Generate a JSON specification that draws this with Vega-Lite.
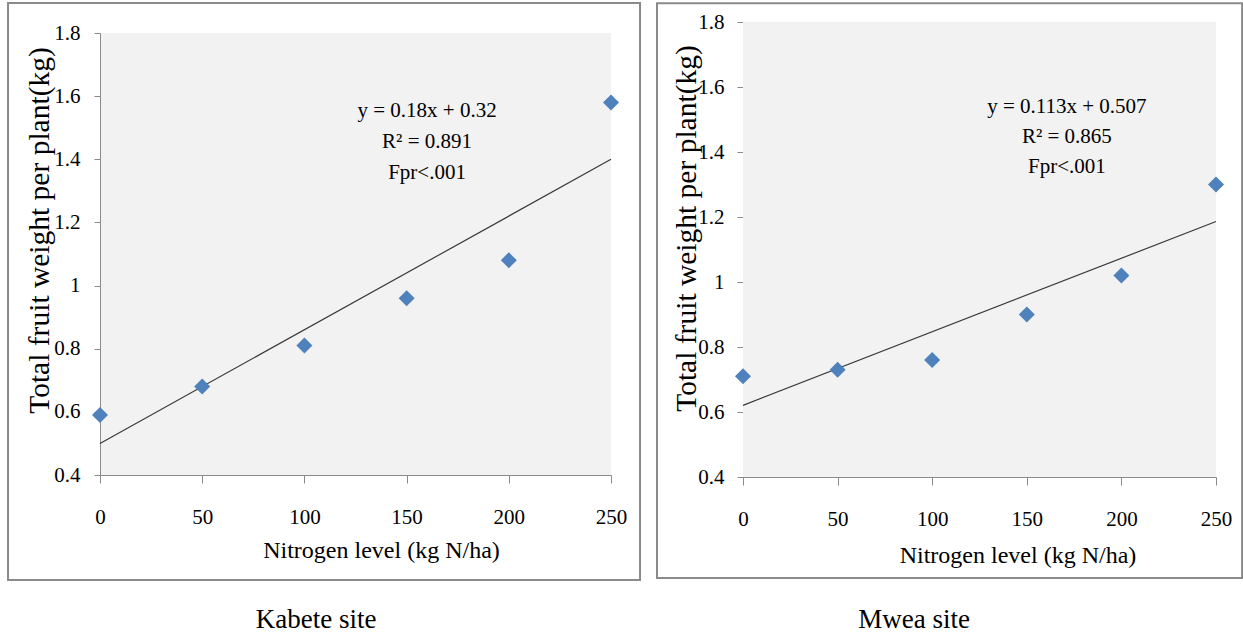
{
  "$schema": "https://vega.github.io/schema/vega-lite/v6.json",
  "padding": {"left": 7, "top": 2, "right": 0, "bottom": 0},
  "spacing": 14,
  "datasets": {
    "kabete": [
      {"nitrogen": 0, "weight": 0.59},
      {"nitrogen": 50, "weight": 0.68},
      {"nitrogen": 100, "weight": 0.81},
      {"nitrogen": 150, "weight": 0.96},
      {"nitrogen": 200, "weight": 1.08},
      {"nitrogen": 250, "weight": 1.58}
    ],
    "mwea": [
      {"nitrogen": 0, "weight": 0.71},
      {"nitrogen": 50, "weight": 0.73},
      {"nitrogen": 100, "weight": 0.76},
      {"nitrogen": 150, "weight": 0.90},
      {"nitrogen": 200, "weight": 1.02},
      {"nitrogen": 250, "weight": 1.30}
    ]
  },
  "hconcat": [
    {
      "width": 511,
      "height": 442,
      "layer": [
        {
          "data": {"values": [{}]},
          "mark": {"type": "rect", "fill": "transparent", "stroke": "#8a8a8a", "strokeWidth": 2},
          "encoding": {
            "x": {"datum": -45, "type": "quantitative", "scale": {"domain": [0, 250], "nice": false, "zero": false}},
            "x2": {"datum": 264.2},
            "y": {"datum": 1.895, "type": "quantitative", "scale": {"domain": [0.4, 1.8], "nice": false, "zero": false}},
            "y2": {"datum": 0.0674}
          }
        },
        {
          "data": {"name": "kabete"},
          "transform": [{"regression": "weight", "on": "nitrogen", "extent": [0, 250]}],
          "mark": {"type": "line", "color": "#3a3a3a", "strokeWidth": 1.2},
          "encoding": {
            "x": {"field": "nitrogen", "type": "quantitative", "scale": {"domain": [0, 250], "nice": false, "zero": false}, "title": "Nitrogen level (kg N/ha)"},
            "y": {"field": "weight", "type": "quantitative", "scale": {"domain": [0.4, 1.8], "nice": false, "zero": false}, "title": "Total fruit weight per plant(kg)"}
          }
        },
        {
          "data": {"name": "kabete"},
          "mark": {"type": "point", "shape": "diamond", "filled": true, "color": "#4F81BD", "opacity": 1, "size": 256},
          "encoding": {
            "x": {
              "field": "nitrogen", "type": "quantitative",
              "scale": {"domain": [0, 250], "nice": false, "zero": false},
              "title": "Nitrogen level (kg N/ha)",
              "axis": {
                "title": "Nitrogen level (kg N/ha)", "values": [0, 50, 100, 150, 200, 250],
                "grid": false, "tickSize": 8, "labelPadding": 40, "labelBaseline": "alphabetic",
                "labelFlush": false, "labelOverlap": false,
                "labelFont": "Liberation Serif", "labelFontSize": 21, "labelColor": "#000000",
                "titleFont": "Liberation Serif", "titleColor": "#000000", "titleFontWeight": "normal",
                "titleX": 281, "titleY": 82, "titleBaseline": "alphabetic", "titleAlign": "center", "titleFontSize": 24
              }
            },
            "y": {
              "field": "weight", "type": "quantitative",
              "scale": {"domain": [0.4, 1.8], "nice": false, "zero": false},
              "title": "Total fruit weight per plant(kg)",
              "axis": {
                "title": "Total fruit weight per plant(kg)", "values": [0.4, 0.6, 0.8, 1.0, 1.2, 1.4, 1.6, 1.8],
                "format": "~g", "grid": false, "tickSize": 6, "labelPadding": 14, "labelBaseline": "middle",
                "labelFlush": false, "labelOverlap": false,
                "labelFont": "Liberation Serif", "labelFontSize": 21, "labelColor": "#000000",
                "titleFont": "Liberation Serif", "titleColor": "#000000", "titleFontWeight": "normal",
                "titleX": -52, "titleY": 197, "titleBaseline": "alphabetic", "titleAlign": "center", "titleAngle": -90, "titleFontSize": 29.5
              }
            }
          }
        },
        {
          "data": {"values": [{}]},
          "mark": {"type": "text", "text": ["y = 0.18x + 0.32", "R² = 0.891", "Fpr<.001"], "font": "Liberation Serif", "fontSize": 21, "lineHeight": 31, "align": "center", "baseline": "top"},
          "encoding": {
            "x": {"datum": 160, "type": "quantitative", "scale": {"domain": [0, 250], "nice": false, "zero": false}},
            "y": {"datum": 1.588, "type": "quantitative", "scale": {"domain": [0.4, 1.8], "nice": false, "zero": false}}
          }
        },
        {
          "data": {"values": [{}]},
          "mark": {"type": "text", "text": "Kabete site", "font": "Liberation Serif", "fontSize": 27, "align": "center", "baseline": "alphabetic"},
          "encoding": {
            "x": {"datum": 105.7, "type": "quantitative", "scale": {"domain": [0, 250], "nice": false, "zero": false}},
            "y": {"datum": -0.0846, "type": "quantitative", "scale": {"domain": [0.4, 1.8], "nice": false, "zero": false}}
          }
        }
      ]
    },
    {
      "width": 473,
      "height": 444,
      "view": {"fill": "transparent", "stroke": null},
      "layer": [
        {
          "data": {"values": [{}]},
          "mark": {"type": "rect", "fill": "#F2F2F2"},
          "encoding": {
            "x": {"datum": 0, "type": "quantitative", "scale": {"domain": [0, 250], "nice": false, "zero": false}},
            "x2": {"datum": 250},
            "y": {"datum": 0.4, "type": "quantitative", "scale": {"domain": [0.4, 1.8], "range": [444, -11], "nice": false, "zero": false}},
            "y2": {"datum": 1.8}
          }
        },
        {
          "data": {"values": [{}]},
          "mark": {"type": "rect", "fill": "transparent", "stroke": "#8a8a8a", "strokeWidth": 2},
          "encoding": {
            "x": {"datum": -45.45, "type": "quantitative", "scale": {"domain": [0, 250], "nice": false, "zero": false}},
            "x2": {"datum": 263.8},
            "y": {"datum": 1.858, "type": "quantitative", "scale": {"domain": [0.4, 1.8], "range": [444, -11], "nice": false, "zero": false}},
            "y2": {"datum": 0.0892}
          }
        },
        {
          "data": {"name": "mwea"},
          "transform": [{"regression": "weight", "on": "nitrogen", "extent": [0, 250]}],
          "mark": {"type": "line", "color": "#3a3a3a", "strokeWidth": 1.2},
          "encoding": {
            "x": {"field": "nitrogen", "type": "quantitative", "scale": {"domain": [0, 250], "nice": false, "zero": false}, "title": "Nitrogen level (kg N/ha)"},
            "y": {"field": "weight", "type": "quantitative", "scale": {"domain": [0.4, 1.8], "range": [444, -11], "nice": false, "zero": false}, "title": "Total fruit weight per plant(kg)"}
          }
        },
        {
          "data": {"name": "mwea"},
          "mark": {"type": "point", "shape": "diamond", "filled": true, "color": "#4F81BD", "opacity": 1, "size": 256},
          "encoding": {
            "x": {
              "field": "nitrogen", "type": "quantitative",
              "scale": {"domain": [0, 250], "nice": false, "zero": false},
              "title": "Nitrogen level (kg N/ha)",
              "axis": {
                "title": "Nitrogen level (kg N/ha)", "values": [0, 50, 100, 150, 200, 250],
                "grid": false, "tickSize": 8, "labelPadding": 40, "labelBaseline": "alphabetic",
                "labelFlush": false, "labelOverlap": false,
                "labelFont": "Liberation Serif", "labelFontSize": 21, "labelColor": "#000000",
                "titleFont": "Liberation Serif", "titleColor": "#000000", "titleFontWeight": "normal",
                "titleX": 274.5, "titleY": 85, "titleBaseline": "alphabetic", "titleAlign": "center", "titleFontSize": 24
              }
            },
            "y": {
              "field": "weight", "type": "quantitative",
              "scale": {"domain": [0.4, 1.8], "range": [444, -11], "nice": false, "zero": false},
              "title": "Total fruit weight per plant(kg)",
              "axis": {
                "title": "Total fruit weight per plant(kg)", "values": [0.4, 0.6, 0.8, 1.0, 1.2, 1.4, 1.6, 1.8],
                "format": "~g", "grid": false, "tickSize": 6, "labelPadding": 13, "labelBaseline": "middle",
                "labelFlush": false, "labelOverlap": false,
                "labelFont": "Liberation Serif", "labelFontSize": 21, "labelColor": "#000000",
                "titleFont": "Liberation Serif", "titleColor": "#000000", "titleFontWeight": "normal",
                "titleX": -48, "titleY": 195, "titleBaseline": "alphabetic", "titleAlign": "center", "titleAngle": -90, "titleFontSize": 29.5
              }
            }
          }
        },
        {
          "data": {"values": [{}]},
          "mark": {"type": "text", "text": ["y = 0.113x + 0.507", "R² = 0.865", "Fpr<.001"], "font": "Liberation Serif", "fontSize": 21, "lineHeight": 30, "align": "center", "baseline": "top"},
          "encoding": {
            "x": {"datum": 171.2, "type": "quantitative", "scale": {"domain": [0, 250], "nice": false, "zero": false}},
            "y": {"datum": 1.5723, "type": "quantitative", "scale": {"domain": [0.4, 1.8], "range": [444, -11], "nice": false, "zero": false}}
          }
        },
        {
          "data": {"values": [{}]},
          "mark": {"type": "text", "text": "Mwea site", "font": "Liberation Serif", "fontSize": 27, "align": "center", "baseline": "alphabetic"},
          "encoding": {
            "x": {"datum": 90.4, "type": "quantitative", "scale": {"domain": [0, 250], "nice": false, "zero": false}},
            "y": {"datum": -0.0646, "type": "quantitative", "scale": {"domain": [0.4, 1.8], "range": [444, -11], "nice": false, "zero": false}}
          }
        }
      ]
    }
  ],
  "config": {
    "font": "Liberation Serif",
    "view": {"fill": "#F2F2F2", "stroke": null},
    "axis": {
      "domainColor": "#8a8a8a", "tickColor": "#8a8a8a", "domainWidth": 1, "tickWidth": 1,
      "labelFont": "Liberation Serif", "labelFontSize": 21, "labelColor": "#000000",
      "titleFont": "Liberation Serif", "titleColor": "#000000", "titleFontWeight": "normal"
    },
    "text": {"color": "#000000", "font": "Liberation Serif"}
  }
}
